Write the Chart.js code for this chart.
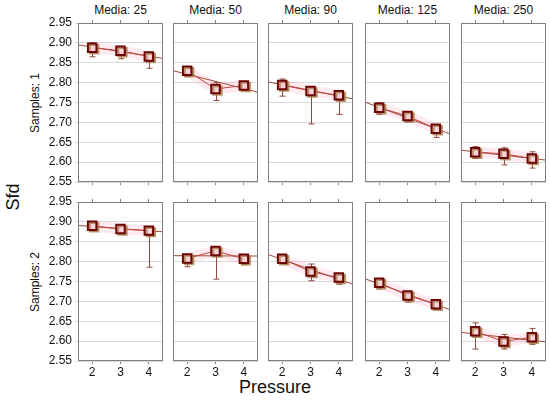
<!DOCTYPE html>
<html>
<head>
<meta charset="utf-8">
<script src="https://cdn.jsdelivr.net/npm/chart.js@4.4.1/dist/chart.umd.min.js"></script>
<style>
  html, body { margin: 0; padding: 0; background: #fff; }
  #wrap { position: relative; width: 550px; height: 400px; overflow: hidden;
          font-family: "Liberation Sans", Arial, sans-serif; color: #111; }
  .panel { position: absolute; }
  .lbl { position: absolute; white-space: nowrap; }
  .rot { transform: translate(-50%, -50%) rotate(-90deg); }
</style>
</head>
<body>
<div id="wrap"></div>
<script>
// ---- data ----
const pressure = [2, 3, 4];
const media = ['25', '50', '90', '125', '250'];
const samples = ['1', '2'];
const yTicks = [2.55, 2.60, 2.65, 2.70, 2.75, 2.80, 2.85, 2.90, 2.95];

// Samples: 1 (means, lower / upper whisker, fitted line at x = 1.5 and 4.5)
const means1 = [[2.888, 2.880, 2.866], [2.830, 2.784, 2.793], [2.794, 2.779, 2.768], [2.737, 2.716, 2.684], [2.625, 2.621, 2.609]];
const lo1    = [[2.865, 2.860, 2.836], [2.815, 2.755, 2.780], [2.766, 2.696, 2.720], [2.720, 2.701, 2.662], [2.609, 2.593, 2.585]];
const hi1    = [[2.900, 2.890, 2.876], [2.840, 2.800, 2.800], [2.809, 2.786, 2.775], [2.750, 2.722, 2.690], [2.639, 2.636, 2.626]];
const reg1   = [[2.895, 2.861], [2.830, 2.776], [2.802, 2.759], [2.751, 2.671], [2.630, 2.605]];

// Samples: 2
const means2 = [[2.890, 2.882, 2.878], [2.808, 2.827, 2.807], [2.807, 2.775, 2.760], [2.747, 2.715, 2.693], [2.625, 2.599, 2.610]];
const lo2    = [[2.885, 2.878, 2.786], [2.787, 2.756, 2.792], [2.800, 2.752, 2.743], [2.731, 2.698, 2.687], [2.580, 2.580, 2.592]];
const hi2    = [[2.895, 2.887, 2.882], [2.815, 2.835, 2.812], [2.813, 2.794, 2.765], [2.755, 2.722, 2.700], [2.646, 2.617, 2.632]];
const reg2   = [[2.891, 2.875], [2.815, 2.814], [2.818, 2.743], [2.757, 2.679], [2.622, 2.598]];

const regX = [1.5, 4.5];

// ---- layout ----
const plotLefts = [78, 173, 268, 365, 461];
const plotTops = [23, 202];
const plotW = 85, plotH = 159;
const yAxisW = 48, topH = 10;
const FONT = '"Liberation Sans", Arial, sans-serif';

const colors = {
  frame: '#7f7f7f',
  grid: '#d9d9d9',
  reg: '#9b4d3a',
  mean: '#c8403f',
  halo: 'rgba(255, 160, 185, 0.22)',
  whisker: '#8e4a3c',
  markerBorder: '#6e0505',
  markerFill: '#f9d3dc',
  shadow: 'rgba(165, 125, 75, 0.75)'
};

// whiskers
const errBarPlugin = {
  id: 'errBars',
  beforeDatasetsDraw(chart, args, opts) {
    const { ctx, scales: { x, y } } = chart;
    ctx.save();
    ctx.strokeStyle = colors.whisker;
    ctx.lineWidth = 1;
    pressure.forEach((p, i) => {
      const px = Math.round(x.getPixelForValue(p)) + 0.5;
      const top = y.getPixelForValue(opts.hi[i]);
      const bot = y.getPixelForValue(opts.lo[i]);
      ctx.beginPath();
      ctx.moveTo(px, top); ctx.lineTo(px, bot);
      ctx.moveTo(px - 3, top); ctx.lineTo(px + 3, top);
      ctx.moveTo(px - 3, bot); ctx.lineTo(px + 3, bot);
      ctx.stroke();
    });
    ctx.restore();
  }
};

// offset tan square behind each marker
const shadowPlugin = {
  id: 'markerShadow',
  beforeDatasetDraw(chart, args) {
    if (args.index !== 0) return;
    const ctx = chart.ctx;
    ctx.save();
    ctx.shadowColor = colors.shadow;
    ctx.shadowOffsetX = 2;
    ctx.shadowOffsetY = 1.5;
    ctx.shadowBlur = 0;
  },
  afterDatasetDraw(chart, args) {
    if (args.index !== 0) return;
    chart.ctx.restore();
  }
};

const framePlugin = {
  id: 'frame',
  afterDraw(chart) {
    const { ctx, chartArea: a } = chart;
    ctx.save();
    ctx.strokeStyle = colors.frame;
    ctx.lineWidth = 1;
    ctx.strokeRect(Math.round(a.left) + 0.5, Math.round(a.top) + 0.5,
      Math.round(a.right - a.left) - 1, Math.round(a.bottom - a.top) - 1);
    ctx.restore();
  }
};

function fixTicks(list) {
  return s => { s.ticks = list.map(v => ({ value: v })); };
}

function makePanel(row, col) {
  const means = row === 0 ? means1 : means2;
  const lo = row === 0 ? lo1 : lo2;
  const hi = row === 0 ? hi1 : hi2;
  const reg = row === 0 ? reg1 : reg2;

  const yw = col === 0 ? yAxisW : 0;
  const botH = row === 1 ? 26 : 10;

  const div = document.createElement('div');
  div.className = 'panel';
  div.style.left = (plotLefts[col] - yw) + 'px';
  div.style.top = (plotTops[row] - topH) + 'px';
  div.style.width = (yw + plotW) + 'px';
  div.style.height = (topH + plotH + botH) + 'px';
  const canvas = document.createElement('canvas');
  div.appendChild(canvas);
  document.getElementById('wrap').appendChild(div);

  const pts = pressure.map((p, i) => ({ x: p, y: means[col][i] }));
  const fit = regX.map((v, i) => ({ x: v, y: reg[col][i] }));

  const xAxis = pos => ({
    type: 'linear',
    position: pos,
    min: 1.5, max: 4.5,
    afterBuildTicks: fixTicks(pressure),
    afterFit: s => {
      s.height = pos === 'top' ? topH : botH;
      s.paddingLeft = s.paddingRight = 0;
    },
    border: { display: false },
    grid: { drawOnChartArea: false, tickLength: 3, color: colors.frame },
    ticks: {
      display: pos === 'bottom' && row === 1,
      padding: 1,
      color: '#111',
      font: { family: FONT, size: 12 }
    }
  });

  new Chart(canvas, {
    type: 'line',
    data: {
      datasets: [
        {
          data: pts,
          showLine: false,
          pointStyle: 'rect',
          pointRadius: 6,
          pointBorderWidth: 2,
          pointBorderColor: colors.markerBorder,
          pointBackgroundColor: colors.markerFill
        },
        {
          data: pts,
          borderColor: colors.mean,
          borderWidth: 1,
          pointRadius: 0
        },
        {
          data: fit,
          borderColor: colors.reg,
          borderWidth: 1,
          pointRadius: 0
        },
        {
          data: pts,
          borderColor: colors.halo,
          borderWidth: 11,
          pointRadius: 0
        }
      ]
    },
    options: {
      responsive: true,
      maintainAspectRatio: false,
      animation: false,
      events: [],
      layout: { padding: 0, autoPadding: false },
      plugins: {
        legend: { display: false },
        tooltip: { enabled: false },
        errBars: { lo: lo[col], hi: hi[col] }
      },
      scales: {
        x: xAxis('bottom'),
        x2: xAxis('top'),
        y: {
          min: 2.55, max: 2.95,
          afterBuildTicks: fixTicks(yTicks),
          afterFit: s => {
            s.width = yw;
            s.paddingTop = s.paddingBottom = 0;
          },
          border: { display: false },
          grid: {
            color: colors.grid,
            drawTicks: col === 0,
            tickLength: 3
          },
          ticks: {
            display: col === 0,
            padding: 3,
            color: '#111',
            font: { family: FONT, size: 12 },
            callback: v => v.toFixed(2)
          }
        }
      }
    },
    plugins: [errBarPlugin, shadowPlugin, framePlugin]
  });
}

function addLabel(text, css, rotate) {
  const el = document.createElement('div');
  el.className = 'lbl' + (rotate ? ' rot' : '');
  el.textContent = text;
  Object.assign(el.style, css);
  document.getElementById('wrap').appendChild(el);
}

media.forEach((m, c) => {
  addLabel('Media: ' + m, {
    left: plotLefts[c] + 'px', width: plotW + 'px', top: '3px',
    textAlign: 'center', fontSize: '12px'
  });
});

samples.forEach((s, r) => {
  addLabel('Samples: ' + s, {
    left: '35px', top: (plotTops[r] + plotH / 2) + 'px', fontSize: '12px'
  }, true);
});

addLabel('Sfd', { left: '13px', top: '197px', fontSize: '18px' }, true);
addLabel('Pressure', {
  left: '235px', width: '80px', top: '377px', textAlign: 'center', fontSize: '18px'
});

samples.forEach((s, r) => media.forEach((m, c) => makePanel(r, c)));
</script>
</body>
</html>
